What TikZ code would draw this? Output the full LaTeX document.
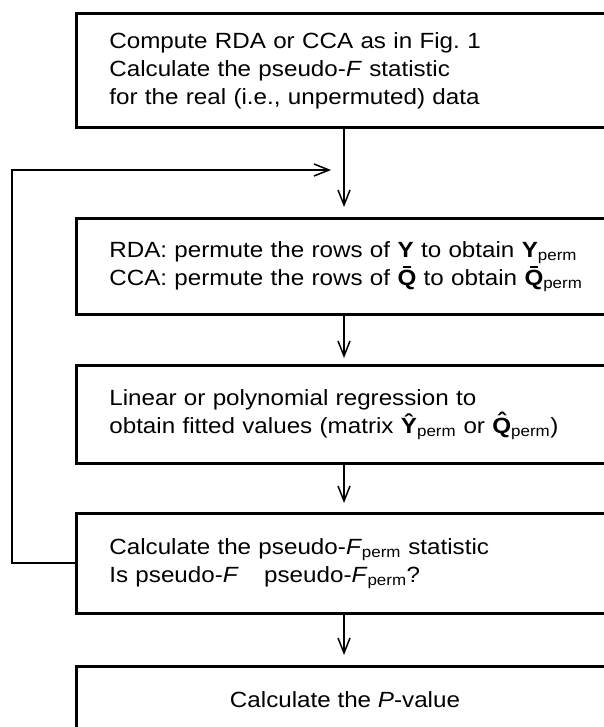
\documentclass[tikz,border=0pt]{standalone}
\usepackage{fontspec}
\setmainfont[FakeStretch=1.1]{Liberation Sans}
\usetikzlibrary{arrows.meta}
\newcommand\qbar{\ooalign{Q\cr\hidewidth\raisebox{0.78em}{\rule{0.36em}{0.09em}}\hidewidth\cr}}
\newcommand\qhat{\ooalign{Q\cr\hidewidth\raisebox{0.21em}{ˆ}\hidewidth\cr}}

\begin{document}
\begin{tikzpicture}[x=1pt, y=-1pt,
    stepbox/.style={draw, line width=2.7pt, anchor=north west, align=left,
      text width=499pt, inner xsep=33pt, inner ysep=0pt,
      font=\fontsize{22}{28}\selectfont},
    flow/.style={line width=1.9pt, -{Straight Barb[length=15pt, width=12pt, line width=1.5pt]}}]
    \useasboundingbox (0,0) rectangle (604,727);
    \clip (0,0) rectangle (604,727);
    \node[stepbox, minimum height=114pt] (compute) at (75,12)
      {Compute RDA or CCA as in Fig.~1\\
       Calculate the pseudo-\textit{F} statistic\\
       for the real (i.e., unpermuted) data};
    \node[stepbox, minimum height=96pt] (permute) at (75,217)
      {RDA: permute the rows of \textbf{Y} to obtain \textbf{Y}\textsubscript{perm}\\
       CCA: permute the rows of \textbf{\qbar} to obtain \textbf{\qbar}\textsubscript{perm}};
    \node[stepbox, minimum height=98pt] (regress) at (75,364)
      {Linear or polynomial regression to\\
       obtain fitted values (matrix \textbf{\^Y}\textsubscript{perm} or \textbf{\qhat}\textsubscript{perm})};
    \node[stepbox, minimum height=100pt] (check) at (75,512)
      {Calculate the pseudo-\textit{F}\textsubscript{perm} statistic\\
       Is pseudo-\textit{F}\hspace{1.15em}pseudo-\textit{F}\textsubscript{perm}?};
    \node[stepbox, minimum height=95pt] (pvalue) at (75,665) {};
    \node[font=\fontsize{22}{28}\selectfont, inner sep=0pt] (pvaluetext) at (345,700)
      {Calculate the \textit{P}-value};
    \coordinate (loop) at (12,170);
    \coordinate (merge) at (331,170);
    \draw[flow] (compute.south -| 344,0) -- (344,207);
    \draw[flow] (permute.south -| 344,0) -- (344,358);
    \draw[flow] (regress.south -| 344,0) -- (344,503);
    \draw[flow] (check.south -| 344,0) -- (344,655);
    \draw[flow] (check.west) -- (check.west -| loop) -- (loop) -- (merge);
  \end{tikzpicture}
\end{document}
